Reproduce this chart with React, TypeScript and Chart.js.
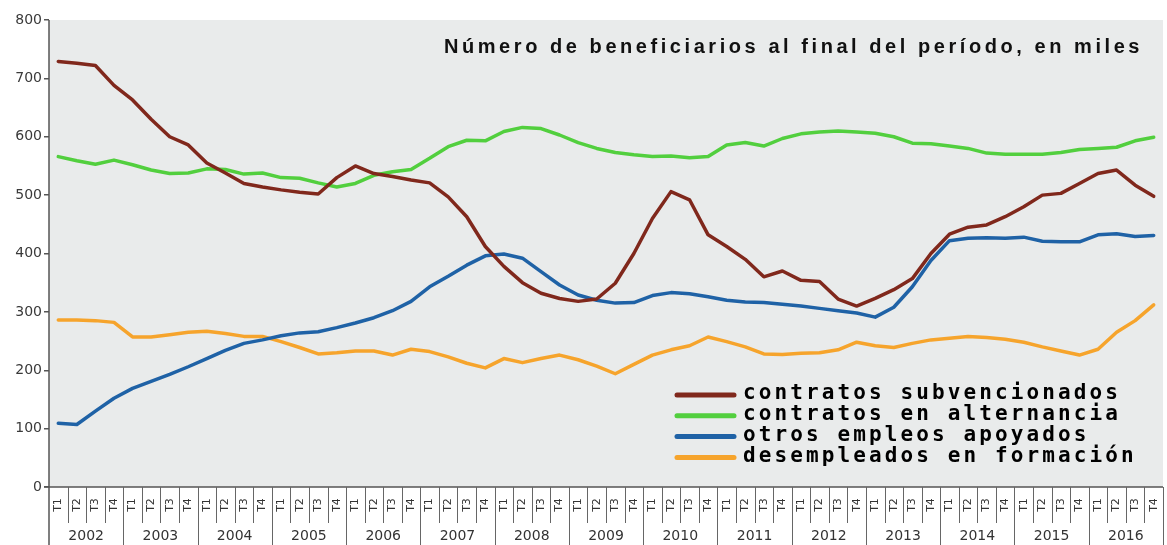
import React, { useEffect, useRef } from "react";
import { Chart, registerables } from "chart.js";

Chart.register(...registerables);

const years = ["2002", "2003", "2004", "2005", "2006", "2007", "2008", "2009", "2010", "2011", "2012", "2013", "2014", "2015", "2016"];
const quarters = ["T1", "T2", "T3", "T4"];
const yTicks = [0, 100, 200, 300, 400, 500, 600, 700, 800];

const seriesNames = [
  "contratos subvencionados",
  "contratos en alternancia",
  "otros empleos apoyados",
  "desempleados en formación",
];

const subvencionados = [
  729, 726, 722, 688, 663, 630, 600, 586, 555, 538, 520, 514, 509, 505, 502, 530,
  550, 537, 532, 526, 521, 497, 463, 412, 378, 350, 332, 323, 318, 322, 349, 400,
  460, 506, 492, 432, 412, 390, 360, 370, 354, 352, 322, 310, 323, 338, 357, 400,
  433, 445, 449, 463, 480, 500, 503, 520, 537, 543, 517, 498,
];
const alternancia = [
  566, 559, 553, 560, 552, 543, 537, 538, 545, 544, 536, 538, 530, 529, 521, 514,
  520, 534, 540, 544, 563, 583, 594, 593, 609, 616, 614, 603, 590, 580, 573, 569,
  566, 567, 564, 566, 586, 590, 584, 597, 605, 608, 610, 608, 606, 600, 589, 588,
  584, 580, 572, 570, 570, 570, 573, 578, 580, 582, 593, 599,
];
const otrosEmpleos = [
  109, 107, 130, 152, 169, 181, 193, 206, 220, 234, 246, 252, 259, 264, 266, 273,
  281, 290, 302, 318, 343, 361, 380, 396, 399, 392, 369, 346, 329, 320, 315, 316,
  328, 333, 331, 326, 320, 317, 316, 313, 310, 306, 302, 298, 291, 308, 343, 388,
  422, 426, 427, 426, 428, 421, 420, 420, 432, 434, 429, 431,
];
const desempleados = [
  286, 286, 285, 282, 257, 257, 261, 265, 267, 263, 258, 258, 249, 239, 228, 230,
  233, 233, 226, 236, 232, 223, 212, 204, 220, 213, 220, 226, 218, 207, 194, 210,
  226, 235, 242, 257, 249, 240, 228, 227, 229, 230, 235, 248, 242, 239, 246, 252,
  255, 258, 256, 253, 248, 240, 233, 226, 236, 265, 285, 312,
];

const colors = ["#80281c", "#52cf3e", "#1f62a6", "#f6a42c"];
const titleText = "Número de beneficiarios al final del período, en miles";

const labels: string[] = [];
years.forEach((y) => quarters.forEach((q) => labels.push(q)));

const customPlugin = {
  id: "custom",
  beforeDraw(chart: any) {
    const { ctx, chartArea } = chart;
    ctx.save();
    ctx.fillStyle = "#e9ebeb";
    ctx.fillRect(chartArea.left, chartArea.top, chartArea.right - chartArea.left, chartArea.bottom - chartArea.top);
    ctx.restore();
  },
  afterDraw(chart: any) {
    const { ctx, chartArea } = chart;
    const { left, right, top, bottom } = chartArea;
    const xs = chart.scales.x;
    const n = chart.data.labels.length;
    const half = (xs.getPixelForValue(1) - xs.getPixelForValue(0)) / 2;
    const H = chart.height;

    ctx.save();
    ctx.strokeStyle = "#555";
    ctx.lineWidth = 1.5;
    ctx.beginPath();
    ctx.moveTo(left - 5, bottom);
    ctx.lineTo(right, bottom);
    ctx.moveTo(left, top);
    ctx.lineTo(left, H);
    ctx.stroke();

    // separators
    ctx.lineWidth = 1;
    ctx.strokeStyle = "#666";
    ctx.beginPath();
    for (let i = 1; i <= n; i++) {
      const bx = Math.round(i < n ? xs.getPixelForValue(i) - half : right) + 0.5;
      ctx.moveTo(bx, bottom);
      ctx.lineTo(bx, i % 4 === 0 ? H : bottom + 36);
    }
    ctx.stroke();

    // quarter labels
    ctx.fillStyle = "#333";
    ctx.font = "11px 'DejaVu Sans'";
    ctx.textAlign = "center";
    ctx.textBaseline = "middle";
    for (let i = 0; i < n; i++) {
      const cx = xs.getPixelForValue(i);
      ctx.save();
      ctx.translate(cx, bottom + 18);
      ctx.rotate(-Math.PI / 2);
      ctx.fillText(chart.data.labels[i], 0, 0);
      ctx.restore();
    }
    // year labels
    ctx.font = "14px 'DejaVu Sans'";
    years.forEach((yr, k) => {
      const cx = (xs.getPixelForValue(4 * k) + xs.getPixelForValue(4 * k + 3)) / 2;
      ctx.fillText(yr, cx, bottom + 49);
    });

    // title
    ctx.fillStyle = "#111";
    ctx.font = "bold 20px 'Liberation Sans'";
    ctx.textAlign = "left";
    ctx.textBaseline = "alphabetic";
    const targetW = 699;
    const tw = ctx.measureText(titleText).width;
    const sp = (targetW - tw) / titleText.length;
    (ctx as any).letterSpacing = sp + "px";
    ctx.fillText(titleText, right - 20 - targetW, top + 33);
    (ctx as any).letterSpacing = "0px";

    // legend
    ctx.font = "bold 21px 'DejaVu Sans Mono'";
    const cw = ctx.measureText("c").width;
    (ctx as any).letterSpacing = (15.75 - cw) + "px";
    ctx.textBaseline = "middle";
    chart.data.datasets.forEach((ds: any, i: number) => {
      const ly = 395 + i * 20.8;
      ctx.strokeStyle = ds.borderColor;
      ctx.lineWidth = 5;
      ctx.lineCap = "round";
      ctx.beginPath();
      ctx.moveTo(677, ly);
      ctx.lineTo(734, ly);
      ctx.stroke();
      ctx.fillStyle = "#000";
      ctx.fillText(ds.label, 743, ly - 1);
    });
    (ctx as any).letterSpacing = "0px";
    ctx.restore();
  },
};

export default function App() {
  const ref = useRef<HTMLCanvasElement>(null);
  useEffect(() => {
    document.body.style.margin = "0";
    const allSeries = [subvencionados, alternancia, otrosEmpleos, desempleados];
    const chart = new Chart(ref.current as HTMLCanvasElement, {
      type: "line",
      data: {
        labels,
        datasets: allSeries.map((d, i) => ({
          label: seriesNames[i],
          data: d,
          borderColor: colors[i],
          backgroundColor: colors[i],
          borderWidth: 3.5,
          pointRadius: 0,
          tension: 0,
          borderJoinStyle: "round" as const,
          borderCapStyle: "round" as const,
        })),
      },
      options: {
        responsive: false,
        animation: false,
        devicePixelRatio: 1,
        layout: { padding: { top: 20, right: 4, left: 0, bottom: 0 } },
        plugins: { legend: { display: false }, tooltip: { enabled: false }, title: { display: false } },
        scales: {
          x: {
            type: "category",
            offset: true,
            grid: { display: false },
            border: { display: false },
            ticks: { display: false },
            afterFit: (s: any) => { s.height = 58; },
          },
          y: {
            min: 0,
            max: 800,
            afterBuildTicks: (s: any) => { s.ticks = yTicks.map((v) => ({ value: v })); },
            ticks: { color: "#3a3a3a", font: { family: "'DejaVu Sans'", size: 14 }, padding: 2 },
            grid: { drawOnChartArea: false, drawTicks: true, tickLength: 5, color: "#555", lineWidth: 1.5 },
            border: { display: false },
            afterFit: (s: any) => { s.width = 49; },
          },
        },
      },
      plugins: [customPlugin],
    });
    return () => chart.destroy();
  }, []);
  return (
    <div style={{ width: 1167, height: 545, background: "#fff" }}>
      <canvas ref={ref} width={1167} height={545} style={{ display: "block" }} />
    </div>
  );
}
